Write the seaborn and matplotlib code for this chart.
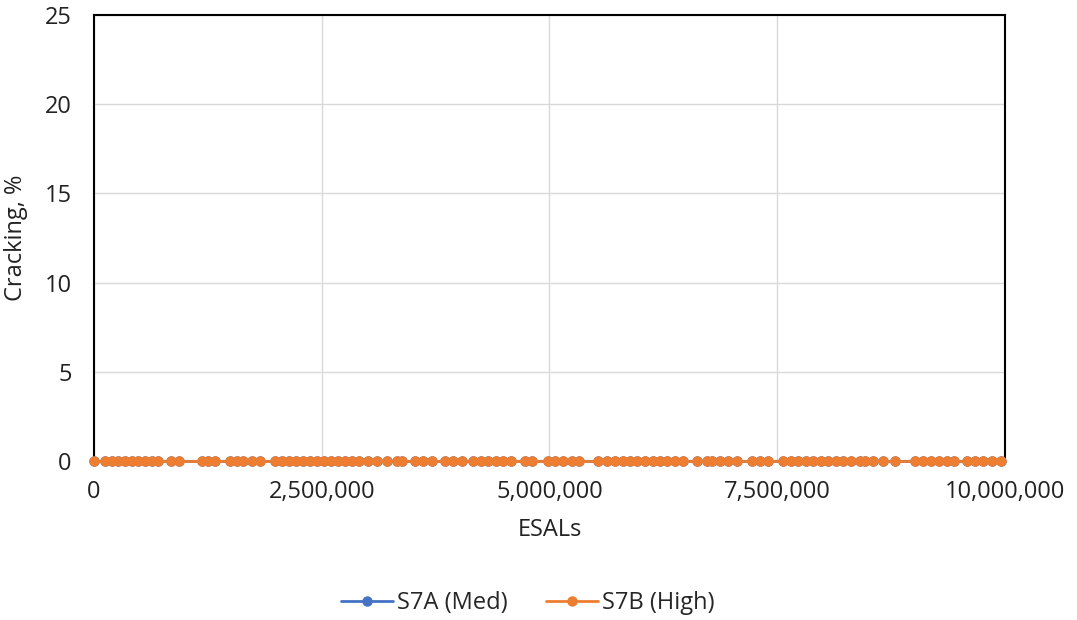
import numpy as np
import pandas as pd
import matplotlib
matplotlib.use("Agg")
import matplotlib.pyplot as plt
import matplotlib.ticker as mticker
import seaborn as sns

# ESALs (millions); cracking stays at 0 for both sections
esals_m = [0.0, 0.121, 0.198, 0.263, 0.340, 0.417, 0.483, 0.560, 0.637, 0.703,
           0.845, 0.933, 1.186, 1.251, 1.328, 1.493, 1.570, 1.636, 1.735, 1.822,
           1.987, 2.064, 2.141, 2.217, 2.294, 2.371, 2.448, 2.525, 2.602, 2.678,
           2.755, 2.832, 2.909, 3.008, 3.106, 3.216, 3.326, 3.381, 3.524, 3.611,
           3.710, 3.853, 3.941, 4.040, 4.160, 4.248, 4.325, 4.413, 4.490, 4.577,
           4.731, 4.808, 4.984, 5.060, 5.148, 5.247, 5.324, 5.532, 5.631, 5.719,
           5.807, 5.884, 5.960, 6.048, 6.136, 6.213, 6.290, 6.378, 6.466, 6.619,
           6.729, 6.784, 6.872, 6.959, 7.058, 7.223, 7.311, 7.398, 7.563, 7.651,
           7.728, 7.816, 7.892, 7.980, 8.057, 8.145, 8.222, 8.310, 8.409, 8.463,
           8.551, 8.661, 8.793, 9.012, 9.100, 9.188, 9.276, 9.364, 9.440, 9.583,
           9.671, 9.759, 9.857, 9.960]
cracking_s7a = [0.0] * len(esals_m)
cracking_s7b = [0.0] * len(esals_m)

series_names = ["S7A (Med)", "S7B (High)"]
series_colors = ["#4472C4", "#ED7D31"]

esals = [v * 1e6 for v in esals_m]
df = pd.concat([
    pd.DataFrame({"ESALs": esals, "Cracking": cracking_s7a, "Section": series_names[0]}),
    pd.DataFrame({"ESALs": esals, "Cracking": cracking_s7b, "Section": series_names[1]}),
])

sns.set_theme(style="white")
plt.rcParams["font.family"] = ["Open Sans", "DejaVu Sans"]

fig = plt.figure(figsize=(10.77, 6.2), dpi=100)
ax = fig.add_axes([94 / 1077, 1 - 461 / 620, (1005 - 94) / 1077, (461 - 15) / 620])

for name, color in zip(series_names, series_colors):
    sub = df[df["Section"] == name]
    sns.lineplot(data=sub, x="ESALs", y="Cracking", ax=ax, color=color, label=name,
                 marker="o", markersize=7.5, markeredgewidth=0, linewidth=2.0,
                 clip_on=False, zorder=3)

ax.set_xlim(0, 10_000_000)
ax.set_ylim(0, 25)
ax.xaxis.set_major_locator(mticker.MultipleLocator(2_500_000))
ax.yaxis.set_major_locator(mticker.MultipleLocator(5))
ax.xaxis.set_major_formatter(mticker.FuncFormatter(lambda v, p: f"{v:,.0f}"))
ax.grid(True, color="#D9D9D9", linewidth=1.0)
ax.set_axisbelow(True)
for s in ax.spines.values():
    s.set_color("black")
    s.set_linewidth(1.5)

ax.tick_params(axis="both", length=0, labelsize=17, colors="#222222")
ax.tick_params(axis="x", pad=14)
ax.tick_params(axis="y", pad=16)
ax.set_xlabel("ESALs", fontsize=17, labelpad=10, color="#222222")
ax.set_ylabel("Cracking, %", fontsize=17, labelpad=12, color="#222222")

handles, labels = ax.get_legend_handles_labels()
ax.get_legend().remove()
fig.legend(handles, labels, loc="center", bbox_to_anchor=(0.49, 0.027), ncol=2,
           frameon=False, fontsize=17, handlelength=2.2, columnspacing=1.6,
           handletextpad=0.2)

fig.savefig("out.png", dpi=100)
